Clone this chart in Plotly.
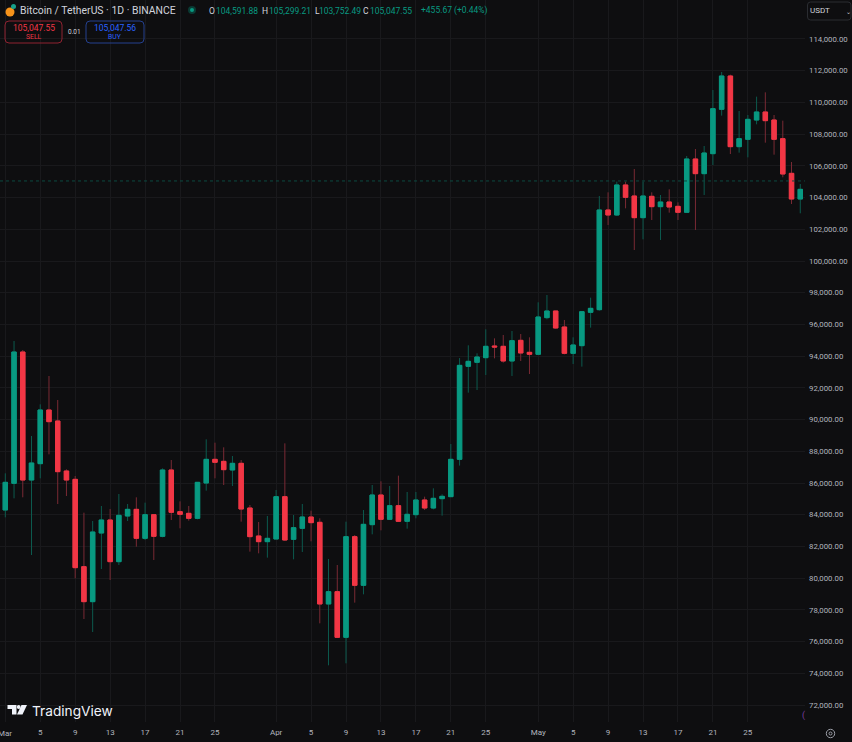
import plotly.graph_objects as go
import pandas as pd

W, H = 852, 742
start_date = "2025-03-01"
opens = [84299,85980,94262,86190,87220,90605,89911,86758,86232,80725,78518,82848,83668,81041,83920,84341,82512,84004,82638,86821,84194,84088,83773,86001,87494,87368,86822,87242,84425,82660,82302,
82470,85140,82449,83143,83858,83522,78372,79149,76269,82618,79549,83374,85245,83711,84572,83584,84005,84930,84425,85014,85140,87494,93359,93611,93905,94641,94620,93695,94998,94242,
94116,96428,96848,95839,94178,94662,96764,96932,103217,102902,104794,104100,102733,104079,103427,103721,103448,103070,106433,105508,106769,109565,111667,107211,107673,108892,109397,108892,107715,105529,103910]
highs = [86611,94956,94388,88965,90962,92749,91235,86863,86443,84131,83605,84551,84362,85308,84677,85098,84761,84004,86926,87452,84845,84551,86043,88755,88545,88251,87704,87452,84614,83542,83921,
85560,88503,83984,84678,84257,83774,81209,80831,83563,82723,84299,85876,86107,85813,86464,85434,85434,85140,85666,85287,88461,93880,94683,94179,95692,95124,95334,95587,95398,95187,
97395,97857,96848,96281,95188,96806,97689,104100,104331,105004,105004,105802,105004,104331,104163,104520,103700,106622,107064,107253,110784,111919,111751,109460,109208,110364,110637,109208,108850,106244,104857]
lows = [83836,85034,85098,81461,86296,87809,84677,85182,79989,77425,76605,80578,79884,80830,83605,81987,82407,81146,82575,83668,83143,83626,83710,85518,86296,85875,85813,83563,81672,81567,81293,
82470,82344,81188,81651,82323,77152,74504,76269,74630,78456,78981,82765,83017,83668,83584,83122,83774,84299,84341,83942,85140,87100,91700,91866,92812,93863,93590,92749,93695,92875,
94116,96323,95734,94115,93506,93338,95797,96869,102271,102839,103322,100695,101367,102586,101325,103049,102586,103070,101956,104163,106055,109166,106748,106832,106538,108619,107463,106706,105277,103595,103007]
closes = [86043,94262,86190,87262,90605,89869,86716,86190,80662,78518,82911,83668,81041,83962,84341,82512,84004,82638,86821,84151,84025,83773,86043,87494,87305,86842,87242,84362,82618,82302,82512,
85140,82407,83185,83858,83500,78372,79149,76269,82618,79549,83395,85245,83711,84572,83584,84026,84930,84425,85035,85161,87494,93420,93674,93947,94620,94578,93695,94977,94200,94116,
96470,96848,95776,94178,94704,96806,97016,103217,102902,104794,104016,102733,104100,103427,103721,103406,103070,106433,105508,106811,109607,111667,107211,107715,108934,109397,108850,107673,105487,103910,104520]
last_close = 105047.55
y_ticks = list(range(72000, 116000, 2000))
x_tick_dates = ["2025-03-01","2025-03-05","2025-03-09","2025-03-13","2025-03-17","2025-03-21","2025-03-25",
                "2025-04-01","2025-04-05","2025-04-09","2025-04-13","2025-04-17","2025-04-21","2025-04-25",
                "2025-05-01","2025-05-05","2025-05-09","2025-05-13","2025-05-17","2025-05-21","2025-05-25"]
x_tick_text = ["","5","9","13","17","21","25","Apr","5","9","13","17","21","25","May","5","9","13","17","21","25"]

dates = pd.date_range(start_date, periods=len(opens), freq="D")
body_hi = [max(o, c) for o, c in zip(opens, closes)]
body_lo = [min(o, c) for o, c in zip(opens, closes)]

BG, GRID = "#0e0e10", "#19191c"
UP, DOWN = "#089981", "#f23645"
UP_W, DOWN_W = "#0c5a4e", "#7a2a34"
TXT, AXT = "#d1d4dc", "#b2b5be"
F = "Roboto, sans-serif"

fig = go.Figure()
fig.add_trace(go.Candlestick(x=dates, open=opens, high=highs, low=lows, close=closes, name="wicks",
    increasing=dict(line=dict(color=UP_W, width=1), fillcolor=UP),
    decreasing=dict(line=dict(color=DOWN_W, width=1), fillcolor=DOWN), whiskerwidth=0))
fig.add_trace(go.Candlestick(x=dates, open=opens, high=body_hi, low=body_lo, close=closes, name="bodies",
    increasing=dict(line=dict(color=UP, width=1), fillcolor=UP),
    decreasing=dict(line=dict(color=DOWN, width=1), fillcolor=DOWN), whiskerwidth=0))

def px(x): return x / W
def py(y): return 1 - y / H

ann = []
def text(x, y, s, color=TXT, size=8, anchor="left", font=F):
    ann.append(dict(x=px(x), y=py(y), xref="paper", yref="paper", text=s, showarrow=False,
                    xanchor=anchor, yanchor="middle", font=dict(color=color, size=size, family=font),
                    borderpad=0, borderwidth=0))

shapes = []
def box(x0, y0, x1, y1, line=None, fill=None, r=3, lw=1):
    X0, X1, Y0, Y1 = px(x0), px(x1), py(y0), py(y1)
    rx, ry = r / W, r / H
    p = (f"M{X0+rx},{Y0} L{X1-rx},{Y0} Q{X1},{Y0} {X1},{Y0-ry} L{X1},{Y1+ry} Q{X1},{Y1} {X1-rx},{Y1} "
         f"L{X0+rx},{Y1} Q{X0},{Y1} {X0},{Y1+ry} L{X0},{Y0-ry} Q{X0},{Y0} {X0+rx},{Y0} Z")
    shapes.append(dict(type="path", path=p, xref="paper", yref="paper",
                       line=dict(color=line or "rgba(0,0,0,0)", width=lw), fillcolor=fill or "rgba(0,0,0,0)"))
def circ(cx, cy, r, fill=None, line=None, lw=1):
    shapes.append(dict(type="circle", xref="paper", yref="paper", x0=px(cx-r), x1=px(cx+r), y0=py(cy-r), y1=py(cy+r),
                       fillcolor=fill or "rgba(0,0,0,0)", line=dict(color=line or "rgba(0,0,0,0)", width=lw)))
def poly(pts, fill):
    p = "M" + " L".join(f"{px(x)},{py(y)}" for x, y in pts) + " Z"
    shapes.append(dict(type="path", path=p, xref="paper", yref="paper", fillcolor=fill, line=dict(width=0)))

# last-price line
shapes.append(dict(type="line", xref="paper", yref="y", x0=0, x1=805/W, y0=last_close, y1=last_close,
                   line=dict(color="#0b4a40", width=1, dash="dot")))
# header
circ(10, 12, 4.5, fill="#f7931a")
circ(13.5, 6.5, 2.5, fill="#17a08a")
text(20, 10.5, "Bitcoin / TetherUS · 1D · BINANCE", TXT, 10.4)
circ(192, 10, 4, fill="#0a3a33")
circ(192, 10, 2, fill="#089981")
for lab, val, xv in [("O","104,591.88",216),("H","105,299.21",269),("L","103,752.49",319),("C","105,047.55",370)]:
    text(xv-7 if lab!="L" else xv-4.5, 10.5, lab, TXT, 8.5)
    text(xv, 10.5, val, UP, 8.5)
text(421, 10.5, "+455.67 (+0.44%)", UP, 8.5)
# sell / buy
box(5, 21, 62, 43, line="#8f2230", r=4)
box(86, 21, 144, 43, line="#24408f", r=4)
text(33.5, 28, "105,047.55", "#f23645", 8.5, "center")
text(33.5, 37, "SELL", "#f23645", 6.8, "center")
text(115, 28, "105,047.56", "#2962ff", 8.5, "center")
text(115, 37, "BUY", "#2962ff", 6.8, "center")
text(74, 32, "0.01", TXT, 6.5, "center")
# USDT selector
box(807.5, 2, 851, 20, line="#2a2c31", r=3)
text(809.5, 11, "USDT", TXT, 8)
text(848, 11.5, "⌄", TXT, 6, "center")
# TradingView logo
poly([(7.5,705),(16.5,705),(16.5,714.5),(12,714.5),(12,709),(7.5,709)], "#f0f3fa")
circ(18.7, 707, 1.9, fill="#f0f3fa")
poly([(21.5,705),(27,705),(22.5,714.5),(17,714.5)], "#f0f3fa")
text(32, 710.5, "TradingView", "#f0f3fa", 13.7, font="Inter, sans-serif")
# clipped first month label
text(5, 733.5, "Mar", AXT, 8, "center")
# purple mark and settings icon
text(803, 715, "(", "#7b3fa0", 9, "center")
circ(830.5, 733.5, 4.2, line="#9a9da6", lw=1)
circ(830.5, 733.5, 1.5, line="#9a9da6", lw=1)

fig.update_layout(
    width=W, height=H, margin=dict(l=0, r=0, t=0, b=0), autosize=False,
    paper_bgcolor=BG, plot_bgcolor=BG, showlegend=False, boxgap=0.27,
    font=dict(family=F, color=AXT, size=8), annotations=ann, shapes=shapes,
    xaxis=dict(domain=[0, 805/W], type="date", range=["2025-02-28 09:26", "2025-05-31 13:00"],
               rangeslider=dict(visible=False), tickmode="array", tickvals=x_tick_dates, ticktext=x_tick_text,
               showgrid=True, gridcolor=GRID, gridwidth=1, zeroline=False, showline=False, ticks="",
               ticklabelstandoff=4, tickfont=dict(size=8, color=AXT), fixedrange=True),
    yaxis=dict(domain=[20/H, 1], side="right", range=[70930, 116459], tickmode="array", tickvals=y_ticks,
               tickformat=",.2f", showgrid=True, gridcolor=GRID, gridwidth=1, zeroline=False, showline=False,
               ticks="", ticklabelstandoff=3, tickfont=dict(size=7.8, color=AXT), fixedrange=True),
)
fig.write_html("out.html", post_script="document.body.style.margin='0';", config=dict(displayModeBar=False, responsive=False))
